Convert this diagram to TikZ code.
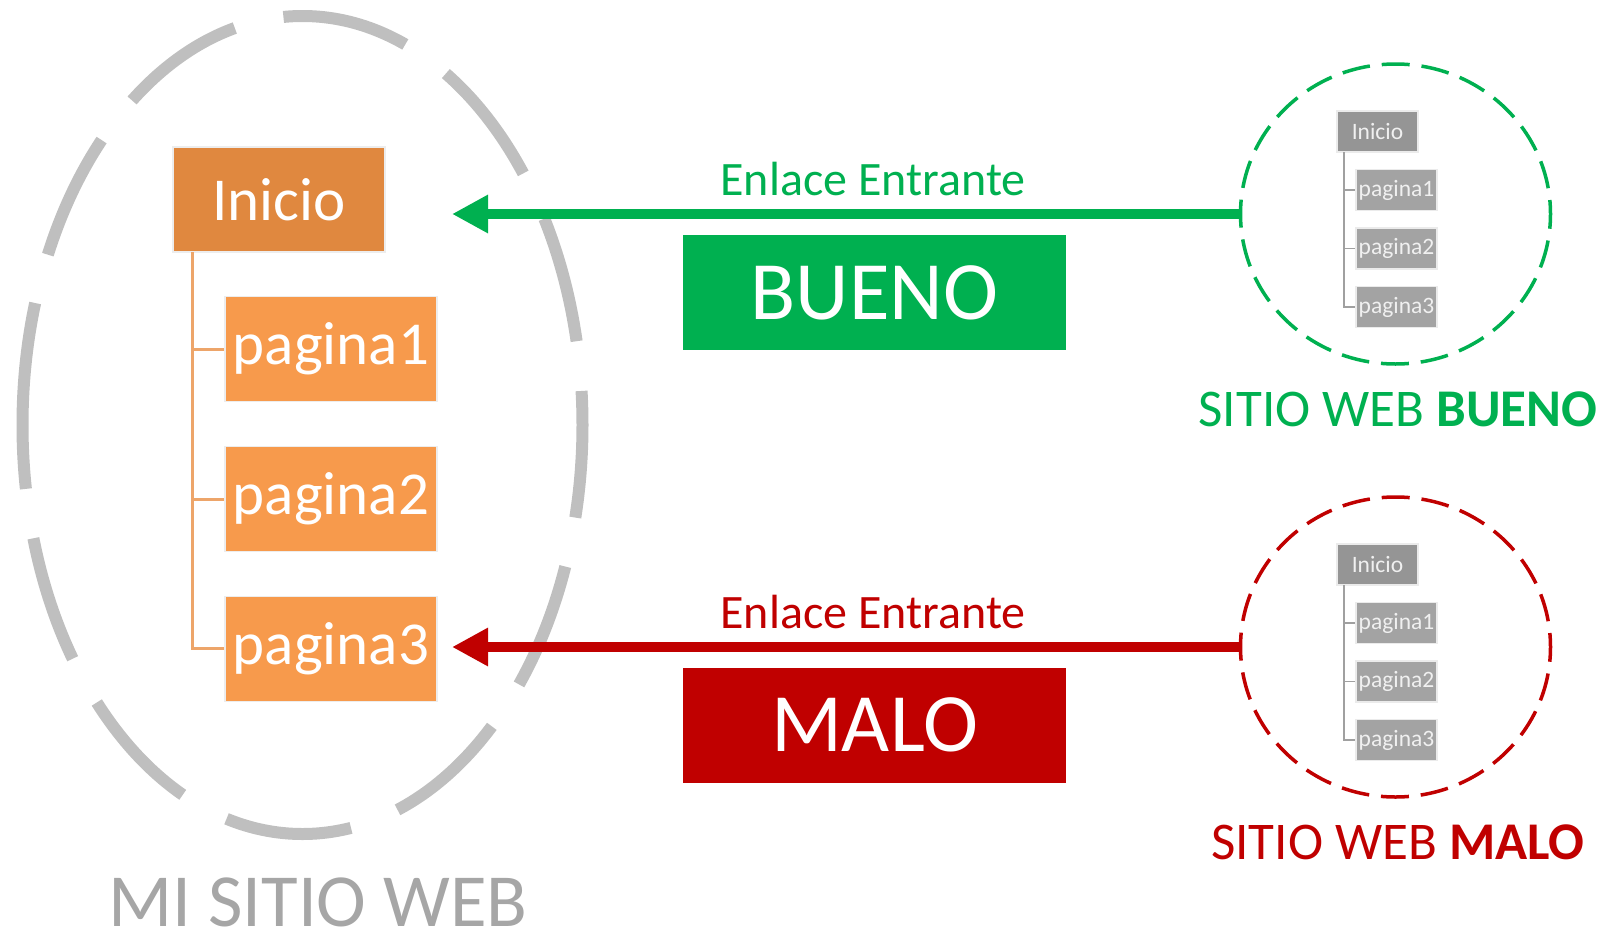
\documentclass[tikz,border=0pt]{standalone}
\usepackage{fontspec}
\setmainfont{Carlito}
\usetikzlibrary{arrows.meta,shapes.geometric}
\definecolor{gGreen}{HTML}{00B050}
\definecolor{rRed}{HTML}{C00000}
\definecolor{ringGrey}{HTML}{BFBFBF}
\definecolor{txtGrey}{HTML}{A6A6A6}
\definecolor{orDark}{HTML}{E0883F}
\definecolor{orLight}{HTML}{F79A4C}
\definecolor{orLine}{HTML}{EDA56A}
\definecolor{boxGreyDark}{HTML}{959595}
\definecolor{boxGrey}{HTML}{A3A3A3}
\definecolor{lineGrey}{HTML}{A0A0A0}
\tikzset{
  bigbox/.style={rectangle, inner sep=0pt, minimum width=212pt, minimum height=105pt,
    text=white, font=\fontsize{61}{61}\selectfont, draw=black!7, line width=1.5pt},
  bigroot/.style={bigbox, fill=orDark},
  bigpage/.style={bigbox, fill=orLight},
  smallbox/.style={rectangle, inner sep=0pt, minimum width=81pt, minimum height=41pt,
    text=white!94!black, font=\fontsize{23.5}{23.5}\selectfont, draw=black!8, line width=1.2pt},
  smallroot/.style={smallbox, fill=boxGreyDark},
  smallpage/.style={smallbox, fill=boxGrey},
  bigtree/.style={draw=orLine, line width=3pt},
  smalltree/.style={draw=lineGrey, line width=1.5pt},
  minering/.style={draw=ringGrey, line width=12pt,
    dash pattern=on 127pt off 50pt, dash phase=63pt},
  siteg/.style={ellipse, draw=gGreen, line width=3.5pt, minimum width=310pt, minimum height=300pt,
    dash pattern=on 28pt off 11.9pt, dash phase=14pt},
  siter/.style={siteg, draw=rRed},
  linkarrow/.style={line width=10pt, -{Triangle[length=36pt, width=36pt]}},
  linklabel/.style={anchor=base, font=\fontsize{48}{48}\selectfont},
  verdict/.style={rectangle, inner sep=0pt, minimum width=383pt, minimum height=115pt,
    text=white, font=\fontsize{83}{83}\selectfont},
  sitelabel/.style={anchor=base, font=\fontsize{53}{53}\selectfont},
}
\begin{document}
\begin{tikzpicture}[x=1pt,y=-1pt]
\useasboundingbox (0,0) rectangle (1610,932);

% my site
\coordinate (mc) at (302.5,425);
\draw[minering] (mc) ++(-280pt,0pt) arc[start angle=180, end angle=540, x radius=280pt, y radius=409pt];
\node[bigroot] (mi) at (278.8,199.3) {Inicio};
\node[bigpage] (mp1) at (331,349) {pagina1};
\node[bigpage] (mp2) at (331,499) {pagina2};
\node[bigpage] (mp3) at (331,648.8) {pagina3};
\coordinate (mt) at (192,252);
\draw[bigtree] (mt) |- (mp3.west);
\draw[bigtree] (mt) |- (mp1.west);
\draw[bigtree] (mt) |- (mp2.west);
\node[anchor=base, inner sep=0pt, text depth=0pt, text=txtGrey, font=\fontsize{75}{75}\selectfont] (mlabel) at (318,926) {MI SITIO WEB};

% good site
\node[siteg] (gc) at (1395.5,214) {};
\node[smallroot] (gi) at (1377.5,131.5) {Inicio};
\node[smallpage] (gp1) at (1396.5,190) {pagina1};
\node[smallpage] (gp2) at (1396.5,248.5) {pagina2};
\node[smallpage] (gp3) at (1396.5,307) {pagina3};
\coordinate (gt) at (1344,152);
\draw[smalltree] (gt) |- (gp3.west);
\draw[smalltree] (gt) |- (gp1.west);
\draw[smalltree] (gt) |- (gp2.west);
\node[sitelabel, text=gGreen] (glabel) at (1398,426) {SITIO WEB \textbf{BUENO}};

% bad site
\node[siter] (rc) at (1395.5,647) {};
\node[smallroot] (ri) at (1377.5,564.5) {Inicio};
\node[smallpage] (rp1) at (1396.5,623) {pagina1};
\node[smallpage] (rp2) at (1396.5,681.5) {pagina2};
\node[smallpage] (rp3) at (1396.5,740) {pagina3};
\coordinate (rt) at (1344,585);
\draw[smalltree] (rt) |- (rp3.west);
\draw[smalltree] (rt) |- (rp1.west);
\draw[smalltree] (rt) |- (rp2.west);
\node[sitelabel, text=rRed] (rlabel) at (1398,859.5) {SITIO WEB \textbf{MALO}};

% links
\coordinate (gtip) at (452,214);
\coordinate (rtip) at (452,647);
\draw[linkarrow, draw=gGreen, fill=gGreen] (gc.west) -- (gtip);
\draw[linkarrow, draw=rRed, fill=rRed] (rc.west) -- (rtip);
\node[linklabel, text=gGreen] (glink) at (873,195) {Enlace Entrante};
\node[linklabel, text=rRed] (rlink) at (873,628.5) {Enlace Entrante};
\node[verdict, fill=gGreen] (bueno) at (874.5,292.5) {BUENO};
\node[verdict, fill=rRed] (malo) at (874.5,725) {MALO};
\end{tikzpicture}
\end{document}
